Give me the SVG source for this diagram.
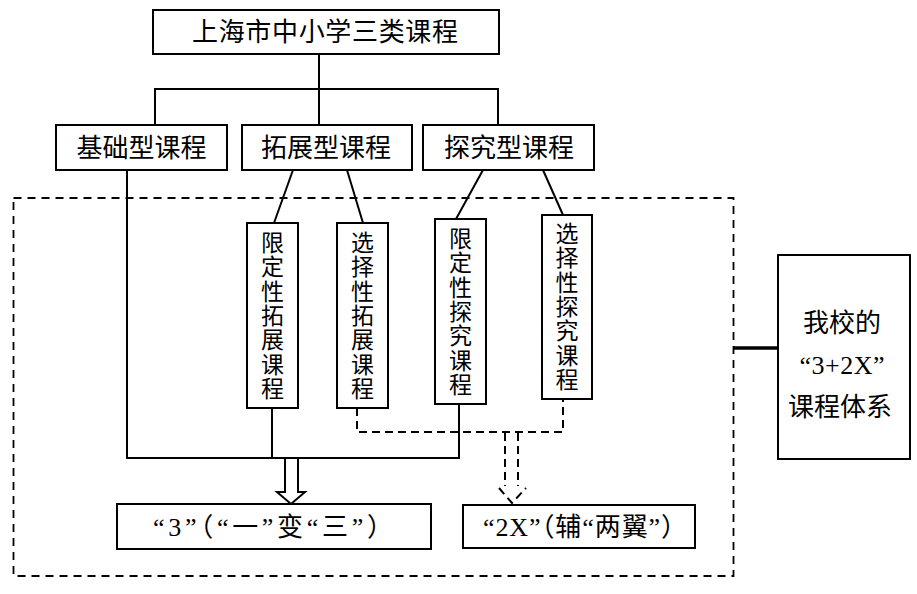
<svg xmlns="http://www.w3.org/2000/svg" width="917" height="594" viewBox="0 0 917 594">
<style>
.box{fill:#fff;stroke:#000;stroke-width:2}
.t{font-family:"Liberation Serif","Noto Sans CJK SC",serif;font-size:26px;fill:#000;text-anchor:middle;dominant-baseline:central}
.v{font-family:"Noto Sans CJK SC",sans-serif;font-size:23px;fill:#000;text-anchor:middle;dominant-baseline:central;writing-mode:vertical-rl;letter-spacing:1.3px}
.ln{fill:none;stroke:#000;stroke-width:2}
.dl{fill:none;stroke:#000;stroke-width:2;stroke-dasharray:8 5}
.border{fill:none;stroke:#000;stroke-width:1.8;stroke-dasharray:8 6}
</style>
<rect width="917" height="594" fill="#fff"/>
<rect class="border" x="13.5" y="198" width="720" height="378"/>
<g id="connectors">
<polyline class="ln" points="319,54 319,89"/>
<polyline class="ln" points="155,125 155,89 498,89 498,125"/>
<polyline class="ln" points="319,89 319,126"/>
<line class="ln" x1="293" y1="170" x2="274" y2="223"/>
<line class="ln" x1="347" y1="170" x2="363" y2="223"/>
<line class="ln" x1="483" y1="170" x2="456" y2="219"/>
<line class="ln" x1="543" y1="170" x2="563" y2="215"/>
<polyline class="ln" points="127,170 127,458 460,458"/>
<line class="ln" x1="272" y1="408" x2="272" y2="458"/>
<line class="ln" x1="459" y1="404" x2="459" y2="458"/>
<polyline class="dl" points="357,408 357,432 563,432 563,399"/>
<polygon points="285,458 298,458 298,492 305,492 291,504 277,492 285,492" fill="#fff" stroke="#000" stroke-width="2"/>
<line class="dl" x1="505" y1="433" x2="505" y2="486" stroke-dasharray="7 5"/>
<line class="dl" x1="518" y1="433" x2="518" y2="486" stroke-dasharray="7 5"/>
<polyline class="dl" points="499,488 512,503 526,488" stroke-dasharray="7 4"/>
<line x1="733" y1="348" x2="778" y2="348" stroke="#000" stroke-width="3.5"/>
</g>
<g id="top"><rect class="box" x="153" y="10" width="346" height="44"/><text class="t" x="325" y="32" textLength="266">上海市中小学三类课程</text></g>
<g id="basic"><rect class="box" x="56" y="125" width="171" height="45"/><text class="t" x="141.5" y="148">基础型课程</text></g>
<g id="extend"><rect class="box" x="242" y="125" width="170" height="45"/><text class="t" x="326" y="148">拓展型课程</text></g>
<g id="explore"><rect class="box" x="423" y="125" width="171" height="45"/><text class="t" x="509" y="148">探究型课程</text></g>
<g id="ext-fixed"><rect class="box" x="247" y="223" width="51" height="185"/>
<text class="v" x="272.5" y="316">限定性拓展课程</text></g>
<g id="ext-opt"><rect class="box" x="337" y="223" width="51" height="185"/>
<text class="v" x="362.5" y="316">选择性拓展课程</text></g>
<g id="exp-fixed"><rect class="box" x="435" y="219" width="51" height="185"/>
<text class="v" x="460.5" y="312">限定性探究课程</text></g>
<g id="exp-opt"><rect class="box" x="542" y="215" width="50" height="184"/>
<text class="v" x="567" y="307">选择性探究课程</text></g>
<g id="three"><rect class="box" x="117" y="504" width="314" height="45"/><text class="t" x="273" y="527" font-size="24" textLength="240">“3”（“一”变“三”）</text></g>
<g id="twox"><rect class="box" x="463" y="505" width="232" height="43"/><text class="t" x="585" y="527" font-size="24" textLength="204">“2X”（辅“两翼”）</text></g>
<g id="system"><rect class="box" x="778" y="255" width="132" height="204"/>
<text class="t" x="842" y="323">我校的</text>
<text class="t" x="842" y="365" textLength="85">“3+2X”</text>
<text class="t" x="840" y="407">课程体系</text></g>
</svg>
